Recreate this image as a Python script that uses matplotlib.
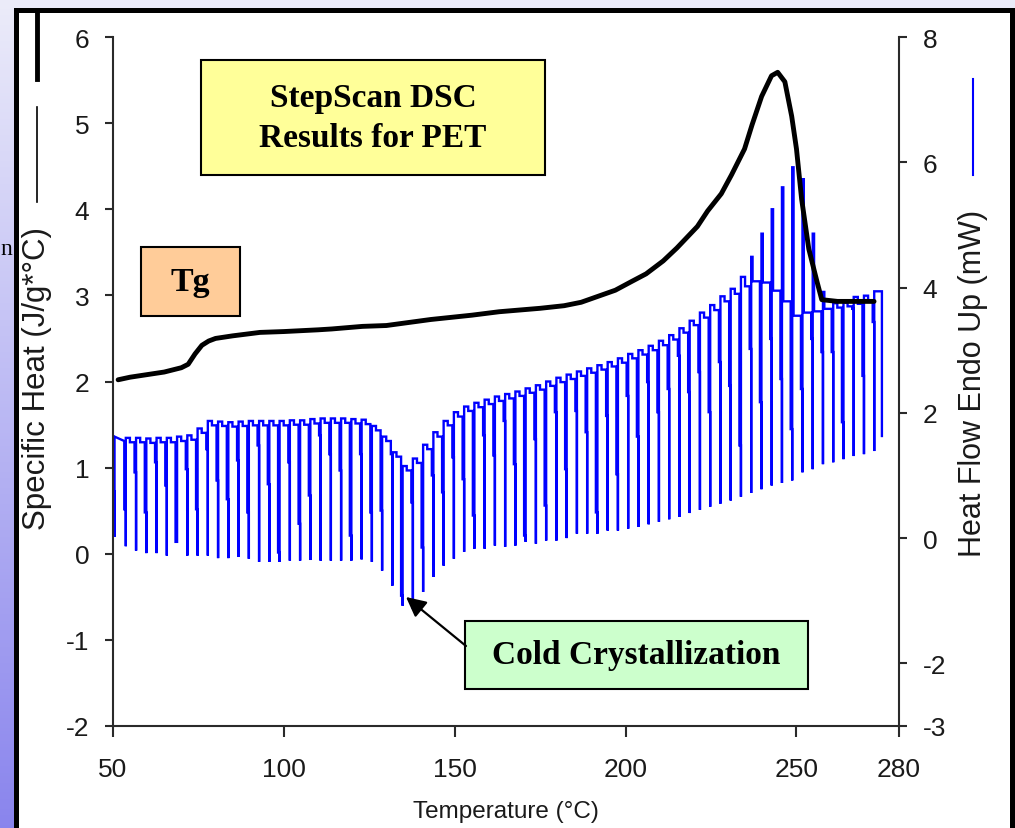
import numpy as np
import matplotlib
matplotlib.use("Agg")
import matplotlib.pyplot as plt
from matplotlib.patches import Rectangle, FancyArrowPatch
from matplotlib.lines import Line2D
from matplotlib import font_manager

plt.rcParams["axes.unicode_minus"] = False

# ---------------- data ----------------
cp_temp = [51.5, 55, 60, 65, 70, 72, 74, 76, 78, 80, 85, 93, 100, 110, 114, 123, 130,
           143, 155, 163, 175, 182, 187, 192, 197, 201.7, 206, 211, 215, 221, 224, 228,
           231, 234.8, 237, 239.8, 242.7, 244.5, 246.6, 248.6, 250, 251.5, 253.6, 256,
           257.4, 262, 272.7]
cp_value = [2.02, 2.05, 2.08, 2.11, 2.16, 2.20, 2.32, 2.42, 2.47, 2.50, 2.53, 2.57, 2.58,
            2.60, 2.61, 2.64, 2.65, 2.72, 2.77, 2.81, 2.85, 2.88, 2.92, 2.99, 3.06, 3.16,
            3.25, 3.40, 3.55, 3.80, 3.98, 4.18, 4.40, 4.70, 4.98, 5.31, 5.55, 5.59, 5.48,
            5.08, 4.70, 4.12, 3.54, 3.16, 2.95, 2.93, 2.93]

# StepScan heat flow: one entry per temperature step
step_temp = [53.3, 56.3, 59.3, 62.3, 65.3, 68.3, 71.3, 74.3, 77.3, 80.3,
             83.3, 86.3, 89.3, 92.3, 95.3, 98.3, 101.3, 104.3, 107.3, 110.3,
             113.3, 116.3, 119.3, 122.3, 125.3, 128.3, 131.3, 134.3, 137.3, 140.3,
             143.3, 146.3, 149.3, 152.3, 155.3, 158.3, 161.3, 164.3, 167.3, 170.3,
             173.3, 176.3, 179.3, 182.3, 185.3, 188.3, 191.3, 194.3, 197.3, 200.3,
             203.3, 206.3, 209.3, 212.3, 215.3, 218.3, 221.3, 224.3, 227.3, 230.3,
             233.3, 236.3, 239.3, 242.3, 245.3, 248.3, 251.3, 254.3, 257.3, 260.3,
             263.3, 266.3, 269.3, 272.3]
hf_plateau = [1.55, 1.53, 1.53, 1.52, 1.53, 1.53, 1.55, 1.57, 1.68, 1.80,
              1.79, 1.78, 1.79, 1.80, 1.80, 1.80, 1.80, 1.81, 1.81, 1.83,
              1.84, 1.84, 1.84, 1.83, 1.82, 1.72, 1.55, 1.30, 1.08, 1.20,
              1.42, 1.62, 1.80, 1.94, 2.03, 2.09, 2.14, 2.19, 2.23, 2.27,
              2.32, 2.37, 2.43, 2.49, 2.54, 2.59, 2.64, 2.69, 2.74, 2.80,
              2.87, 2.93, 3.00, 3.08, 3.17, 3.28, 3.40, 3.52, 3.64, 3.78,
              3.90, 4.02, 4.10, 4.08, 3.95, 3.78, 3.55, 3.60, 3.62, 3.66,
              3.68, 3.70, 3.74, 3.78]
hf_peak = [1.60, 1.60, 1.59, 1.60, 1.60, 1.62, 1.64, 1.75, 1.87, 1.86,
           1.85, 1.86, 1.87, 1.87, 1.87, 1.87, 1.88, 1.88, 1.90, 1.91,
           1.91, 1.91, 1.90, 1.89, 1.79, 1.62, 1.37, 1.15, 1.27, 1.49,
           1.69, 1.87, 2.01, 2.10, 2.16, 2.21, 2.26, 2.30, 2.34, 2.39,
           2.44, 2.50, 2.56, 2.61, 2.66, 2.71, 2.76, 2.81, 2.87, 2.94,
           3.00, 3.07, 3.15, 3.24, 3.35, 3.47, 3.60, 3.72, 3.86, 3.98,
           4.17, 4.49, 4.86, 5.25, 5.60, 5.92, 5.73, 4.86, 3.93, 3.75,
           3.76, 3.85, 3.87, 3.94]
hf_mid = [0.46, 1.05, 0.41, 1.21, 0.84, -0.06, 1.10, 0.46, 1.42, 0.92,
          0.62, 1.24, 0.41, 1.48, 0.86, -0.23, 1.21, 0.23, 0.68, 1.64,
          1.34, 1.08, 0.04, 1.34, 0.41, 0.44, 1.34, -0.92, 0.57, -0.15,
          1.00, 0.73, 1.29, 0.94, 0.36, 1.64, 1.32, 1.87, 1.18, 0.04,
          1.58, 0.52, 2.01, 1.10, 2.03, 1.69, 0.41, 1.95, 1.02, 2.27,
          1.62, 2.49, 2.01, 2.38, 2.91, 2.33, 2.65, 2.01, 2.81, 2.43,
          1.48, 3.02, 2.17, 3.18, 2.54, 1.74, 2.38, 3.18, 2.97, 2.97,
          1.85, 3.66, 2.59, 3.45]
hf_low = [-0.13, -0.20, -0.24, -0.24, -0.28, -0.06, -0.28, -0.28, -0.28, -0.32,
          -0.32, -0.30, -0.33, -0.38, -0.38, -0.38, -0.36, -0.36, -0.35, -0.36,
          -0.36, -0.36, -0.36, -0.34, -0.38, -0.52, -0.76, -1.08, -1.13, -0.86,
          -0.62, -0.44, -0.33, -0.22, -0.17, -0.17, -0.12, -0.14, -0.12, -0.06,
          -0.09, -0.04, -0.04, 0.00, 0.07, 0.07, 0.07, 0.12, 0.12, 0.15,
          0.18, 0.22, 0.26, 0.30, 0.34, 0.40, 0.45, 0.50, 0.55, 0.60,
          0.66, 0.72, 0.78, 0.84, 0.88, 0.92, 1.05, 1.10, 1.18, 1.21,
          1.26, 1.31, 1.34, 1.39]
hf_start_temp = 50.0
hf_start_low, hf_start_mid, hf_start_top = 0.02, 0.74, 1.62
hf_end_temp = 275.0
hf_end_top, hf_end_low = 3.94, 1.63

x_ticks = [50, 100, 150, 200, 250, 280]
left_ticks = [-2, -1, 0, 1, 2, 3, 4, 5, 6]
right_ticks = [-3, -2, 0, 2, 4, 6, 8]

# ---------------- fonts ----------------
names = {f.name for f in font_manager.fontManager.ttflist}
if "Liberation Sans Narrow" in names:
    tick_font, tick_size, xlab_size = "Liberation Sans Narrow", 22, 21.5
else:
    tick_font, tick_size, xlab_size = "Liberation Sans", 19, 17.5
serif = "Liberation Serif"

W, H = 1015, 829
fig = plt.figure(figsize=(W / 100, H / 100), dpi=100)

def fx(px):
    return px / W

def fy(py):
    return 1 - py / H

# background gradient
bg = fig.add_axes([0, 0, 1, 1], zorder=-2)
grad = np.linspace(0, 1, 256).reshape(-1, 1)
top_c = np.array([0.925, 0.925, 0.98])
bot_c = np.array([0.54, 0.52, 0.93])
img = top_c[None, None, :] * (1 - grad[:, :, None]) + bot_c[None, None, :] * grad[:, :, None]
bg.imshow(img, aspect="auto", extent=[0, 1, 0, 1])
bg.set_axis_off()

# white panel with black frame
fig.add_artist(Rectangle((fx(15.5), fy(845)), fx(1012.5) - fx(15.5), fy(11) - fy(845),
                         transform=fig.transFigure, facecolor="white", edgecolor="black",
                         lw=3.6, zorder=-1))

# ---------------- axes ----------------
ax = fig.add_axes([fx(113), fy(727), fx(899) - fx(113), fy(38) - fy(727)])
ax2 = ax.twinx()
ax.set_zorder(ax2.get_zorder() + 1)
ax.patch.set_visible(False)

# build StepScan heat-flow trace
d = 0.45
xs = [hf_start_temp, hf_start_temp, hf_start_temp + d, hf_start_temp + d]
ys = [hf_start_top, hf_start_mid, hf_start_mid, hf_start_low]
xs.append(hf_start_temp + d); ys.append(hf_start_top)
n = len(step_temp)
for i in range(n):
    t = step_temp[i]
    nxt = hf_plateau[i + 1] if i + 1 < n else hf_end_top
    w = 1.2 if hf_peak[i] - nxt < 0.25 else 0.4
    xs += [t, t, t + d, t + d, t + d, t + d + w, t + d + w]
    ys += [hf_plateau[i], hf_mid[i], hf_mid[i], hf_low[i], hf_peak[i], hf_peak[i], nxt]
xs += [hf_end_temp, hf_end_temp]
ys += [hf_end_top, hf_end_low]
ax2.plot(xs, ys, color="#0000FF", lw=1.7, solid_joinstyle="miter")

ax.plot(cp_temp, cp_value, color="black", lw=3.5, solid_joinstyle="round",
        solid_capstyle="round")

ax.set_xlim(50, 280)
ax.set_ylim(-2, 6)
ax2.set_ylim(-3, 8)
ax.set_xticks(x_ticks)
ax.set_yticks(left_ticks)
ax2.set_yticks(right_ticks)

spine_c = "#2a2a2a"
for a in (ax, ax2):
    a.spines["top"].set_visible(False)
    for s in ("left", "right", "bottom"):
        a.spines[s].set_color(spine_c)
        a.spines[s].set_linewidth(1.5)
ax.spines["right"].set_visible(False)
ax2.spines["left"].set_visible(False)
ax2.spines["bottom"].set_visible(False)

ax.tick_params(axis="y", direction="out", length=6, width=1.5, color=spine_c,
               pad=11, labelsize=tick_size, labelcolor="#1a1a1a")
ax.tick_params(axis="x", direction="out", length=8, width=1.5, color=spine_c,
               pad=14, labelsize=tick_size, labelcolor="#1a1a1a")
ax2.tick_params(axis="y", direction="out", length=6, width=1.5, color=spine_c,
                pad=11, labelsize=tick_size, labelcolor="#1a1a1a")
for lab in ax.get_xticklabels() + ax.get_yticklabels() + ax2.get_yticklabels():
    lab.set_fontfamily(tick_font)

# axis titles
fig.text(fx(506), fy(812), "Temperature (°C)", ha="center", va="center",
         fontsize=xlab_size, family=tick_font, color="#1a1a1a")
fig.text(fx(37), fy(378), "Specific Heat (J/g*°C)", rotation=90, ha="center",
         va="center", fontsize=22.5, family="Liberation Sans", color="#1a1a1a")
fig.text(fx(973), fy(383), "Heat Flow Endo Up (mW)", rotation=90, ha="center",
         va="center", fontsize=22, family="Liberation Sans", color="#1a1a1a")

# legend line samples next to the axis titles
fig.add_artist(Line2D([fx(37), fx(37)], [fy(15), fy(80)], transform=fig.transFigure,
                      color="black", lw=3.5))
fig.add_artist(Line2D([fx(37), fx(37)], [fy(108), fy(203)], transform=fig.transFigure,
                      color="black", lw=1.2))
fig.add_artist(Line2D([fx(973), fx(973)], [fy(80), fy(176)], transform=fig.transFigure,
                      color="#0000FF", lw=1.5))

# slide letter at left edge
fig.text(fx(0.5), fy(250), "n", ha="left", va="center", fontsize=17, family=serif,
         color="black")

# annotation boxes
def box(x0, y0, x1, y1, fc, text, size):
    fig.add_artist(Rectangle((fx(x0), fy(y1)), fx(x1) - fx(x0), fy(y0) - fy(y1),
                             transform=fig.transFigure, facecolor=fc,
                             edgecolor="black", lw=1.5, zorder=3))
    fig.text(fx((x0 + x1) / 2), fy((y0 + y1) / 2), text, ha="center", va="center",
             fontsize=size, family=serif, fontweight="bold", color="black",
             linespacing=1.35, zorder=4)

box(201, 61, 545, 176, "#FFFF99", "StepScan DSC\nResults for PET", 24)
box(141, 248, 240, 317, "#FFCC99", "Tg", 24.5)
box(465, 622, 808, 690, "#CCFFCC", "Cold Crystallization", 24)

fig.add_artist(FancyArrowPatch(
    (fx(466), fy(647)), (fx(406), fy(598)), transform=fig.transFigure,
    arrowstyle="-|>", mutation_scale=30, lw=1.6, color="black", zorder=5,
    shrinkA=0, shrinkB=0))

fig.savefig("out.png", dpi=100)
